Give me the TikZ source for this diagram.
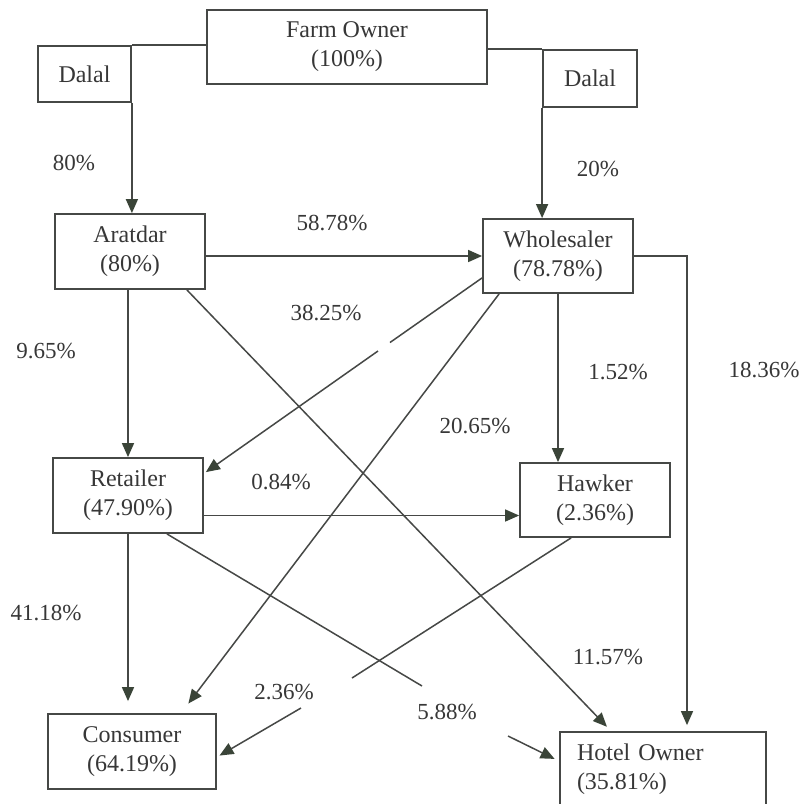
\documentclass[tikz,border=0pt]{standalone}
\usepackage{fontspec}
\setmainfont{Liberation Serif}
\usetikzlibrary{arrows.meta,calc}
\definecolor{ln}{RGB}{70,72,70}
\definecolor{ah}{RGB}{58,68,56}
\definecolor{tx}{RGB}{55,55,55}
\begin{document}
\begin{tikzpicture}[x=1pt,y=-1pt,
  box/.style={draw=ln,line width=1.8pt,fill=white,inner sep=0pt,align=center,text=tx,font=\fontsize{24}{29}\selectfont},
  conn/.style={draw=ln,line width=1.5pt},
  arr/.style={conn,-{Triangle[length=14pt,width=12pt,fill=ah,color=ah]}},
  lab/.style={text=tx,font=\fontsize{23}{26}\selectfont,inner sep=0pt}]
\clip (0,0) rectangle (801,804);
\fill[white] (0,0) rectangle (801,804);
% boxes
\node[box,minimum width=280pt,minimum height=74pt] (farm) at (347,47) {Farm Owner\\(100\%)};
\node[box,minimum width=93pt,minimum height=56pt] (dalL) at (84.5,74) {Dalal};
\node[box,minimum width=94pt,minimum height=57pt] (dalR) at (590,78.5) {Dalal};
\node[box,minimum width=150pt,minimum height=75pt] (arat) at (130,251.5) {Aratdar\\(80\%)};
\node[box,minimum width=150pt,minimum height=74pt] (whole) at (558,256) {Wholesaler\\(78.78\%)};
\node[box,minimum width=150pt,minimum height=75pt] (ret) at (128,495.5) {Retailer\\(47.90\%)};
\node[box,minimum width=150pt,minimum height=74pt] (hawk) at (595,500) {Hawker\\(2.36\%)};
\node[box,minimum width=168pt,minimum height=75pt] (cons) at (132,751.5) {Consumer\\(64.19\%)};
\node[box,minimum height=74pt,text width=172pt,inner xsep=17pt,align=left] (hotel) at (663,769) {Hotel Owner\\(35.81\%)};
% connectors
\draw[conn] (farm.west |- dalL.north) -- (dalL.north east);
\draw[arr] (dalL.south east) -- (dalL.south east |- arat.north);
\draw[conn] (farm.east |- dalR.north) -- (dalR.north west);
\draw[arr] (dalR.south west) -- (dalR.south west |- whole.north);
\draw[arr] (arat.east |- whole.west) -- (whole.west);
\coordinate (hc) at (687,0);
\draw[arr,shorten >=6pt] (whole.east) -| (hc |- hotel.north);
\draw[arr] (arat.south -| ret.north) -- (ret.north);
\draw[arr,shorten >=6pt] ($(arat.south east)+(-19,0)$) -- ($(hotel.north west)+(52,0)$);
\coordinate (g1) at (390,342.5);
\coordinate (g2) at (378,351);
\draw[conn] ($(whole.south west)+(0,-16)$) -- (g1);
\draw[arr] (g2) -- ($(ret.north east)+(2,15)$);
\draw[arr,shorten >=12pt] ($(whole.south west)+(17,0)$) -- ($(cons.north west)+(134,0)$);
\draw[arr] (whole.south) -- (whole.south |- hawk.north);
\coordinate (rh) at ($(ret.east)+(0,20)$);
\draw[arr] (rh) -- (rh -| hawk.west);
\draw[arr,shorten >=12pt] (ret.south) -- (ret.south |- cons.north);
\coordinate (b1) at (422,686);
\coordinate (b2) at (508,736);
\draw[conn] ($(ret.south east)+(-37,0)$) -- (b1);
\draw[arr,shorten >=5pt] (b2) -- ($(hotel.north west)+(0,30)$);
\coordinate (c1) at (352,678);
\coordinate (c2) at (301,708);
\draw[conn] ($(hawk.south west)+(52,0)$) -- (c1);
\draw[arr,shorten >=3pt] (c2) -- ($(cons.north east)+(0,44)$);
% labels
\node[lab] (l80) at (74,163) {80\%};
\node[lab] (l20) at (598,169) {20\%};
\node[lab] (l5878) at (332,223) {58.78\%};
\node[lab] (l3825) at (326,313) {38.25\%};
\node[lab] (l965) at (46,351) {9.65\%};
\node[lab] (l152) at (618,372) {1.52\%};
\node[lab] (l1836) at (764,370) {18.36\%};
\node[lab] (l2065) at (475,426) {20.65\%};
\node[lab] (l084) at (281,482) {0.84\%};
\node[lab] (l4118) at (46,613) {41.18\%};
\node[lab] (l1157) at (608,657) {11.57\%};
\node[lab] (l236) at (284,692) {2.36\%};
\node[lab] (l588) at (447,712) {5.88\%};
\end{tikzpicture}
\end{document}
